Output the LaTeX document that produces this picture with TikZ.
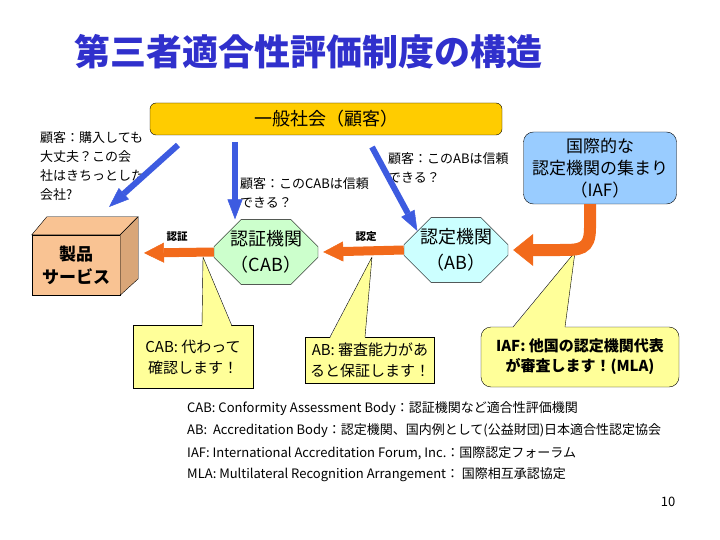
\documentclass[tikz,border=0pt]{standalone}
\usepackage{fontspec}
\setmainfont{Noto Sans CJK JP}
\usetikzlibrary{arrows.meta,shapes.misc}
\definecolor{titleblue}{HTML}{3030CC}
\definecolor{societygold}{HTML}{FFCC00}
\definecolor{cabfill}{HTML}{CCFFCC}
\definecolor{abfill}{HTML}{CCFFFF}
\definecolor{iaffill}{HTML}{99CCFF}
\definecolor{notefill}{HTML}{FFFF99}
\definecolor{boxfront}{HTML}{F9C393}
\definecolor{boxside}{HTML}{D9A678}
\definecolor{certorange}{HTML}{F26A1B}
\definecolor{askblue}{HTML}{3D5BE0}

\begin{document}
\begin{tikzpicture}[x=1pt, y=-1pt,
    question/.style={anchor=north west, align=left, inner sep=0pt,
        font=\fontsize{13}{19}\selectfont},
    agency/.style={chamfered rectangle, chamfered rectangle xsep=16pt,
        chamfered rectangle ysep=11pt, draw=black, align=center,
        inner sep=0pt, font=\fontsize{18}{26}\selectfont},
    callout/.style={draw=black, fill=notefill, align=center, inner sep=0pt,
        font=\fontsize{15}{21}\selectfont},
    legend/.style={anchor=west, inner sep=0pt,
        font=\fontsize{13}{15}\selectfont},
    actlabel/.style={inner sep=0pt, font=\fontsize{10.5}{12}\selectfont\bfseries},
    certarrow/.style={draw=certorange, line width=9pt,
        -{Triangle[length=20pt, width=20pt, line width=0.5pt]}},
    accarrow/.style={draw=certorange, line width=12pt,
        -{Triangle[length=20pt, width=32pt, line width=0.5pt]}},
    askarrow/.style={draw=askblue, line width=6pt,
        -{Triangle[length=20pt, width=15pt, line width=0.5pt]}}
]
    \useasboundingbox (0,0) rectangle (720,540);

    \node[font=\fontsize{36}{42}\selectfont\bfseries, text=titleblue] (title)
        at (308,52) {第三者適合性評価制度の構造};

    \node[draw=black, fill=societygold, rounded corners=6pt,
        minimum width=352pt, minimum height=32pt,
        font=\fontsize{18}{22}\selectfont] (society) at (326,119) {一般社会（顧客）};

    \node[question] (askproduct) at (40,131) {顧客：購入しても\\大丈夫？この会\\社はきちっとした\\会社?};
    \node[question] (askcab) at (240,177) {顧客：このCABは信頼\\できる？};
    \node[question] (askab) at (388,152) {顧客：このABは信頼\\できる？};

    % product box
    \node[draw=black, fill=boxfront, minimum width=88pt, minimum height=60pt,
        align=center, inner sep=0pt, font=\fontsize{17}{23}\selectfont\bfseries]
        (product) at (76,265) {製品\\サービス};
    \filldraw[fill=boxfront] (product.north west) -- ++(15,-18) -- ++(91,0)
        -- (product.north east) -- cycle;
    \filldraw[fill=boxside] (product.north east) -- ++(18,-18) -- ++(0,62)
        -- (product.south east) -- cycle;

    \node[agency, fill=cabfill, minimum width=97pt, minimum height=63pt]
        (cab) at (266,252) {認証機関\\（CAB）};
    \node[agency, fill=abfill, minimum width=103pt, minimum height=57pt]
        (ab) at (456,250) {認定機関\\（AB）};
    \node[draw=black, fill=iaffill, rounded corners=10pt, minimum width=153pt,
        minimum height=72pt, align=center, font=\fontsize{17}{22}\selectfont]
        (iaf) at (600,168) {国際的な\\認定機関の集まり\\（IAF）};

    \node[actlabel] (certlabel) at (177,237) {認証};
    \node[actlabel] (acclabel) at (366,237) {認定};

    % callouts
    \node[callout, minimum width=120pt, minimum height=63pt] (cabnote)
        at (193,357) {CAB: 代わって\\確認します！};
    \node[callout, minimum width=129pt, minimum height=46pt] (abnote)
        at (370,360) {AB: 審査能力があ\\ると保証します！};
    \node[callout, rounded corners=10pt, minimum width=198pt, minimum height=60pt,
        font=\fontsize{15}{20}\selectfont\bfseries] (iafnote)
        at (580,357) {IAF: 他国の認定機関代表\\が審査します！(MLA)};

    \coordinate (cabtip) at (203,257);
    \coordinate (abtip) at (372,257);
    \coordinate (iaftip) at (575,252);
    \fill[notefill] (cabtip) -- (202,327) -- (232,327) -- cycle;
    \draw (cabtip) -- (202,326) (cabtip) -- (232,326);
    \fill[notefill] (abtip) -- (330,338) -- (365,338) -- cycle;
    \draw (abtip) -- (330,337) (abtip) -- (365,337);
    \fill[notefill] (iaftip) -- (513,328) -- (565,328) -- cycle;
    \draw (iaftip) -- (513,327) (iaftip) -- (565,327);

    % arrows
    \coordinate (prodtip) at (144,253);
    \draw[certarrow] (cab.west) -- (prodtip);
    \draw[certarrow] (ab.west) -- ([xshift=5pt]cab.east);
    \draw[accarrow] ([xshift=-10pt]iaf.south) -- (590,228)
        .. controls (590,250) and (580,250) .. (560,250) -- ([xshift=5pt]ab.east);

    \coordinate (askfrom1) at (178,145);
    \coordinate (askto1) at (109,207);
    \coordinate (askfrom2) at (235,142);
    \coordinate (askfrom3) at (372,147);
    \draw[askarrow] (askfrom1) -- (askto1);
    \draw[askarrow] (askfrom2) -- ([xshift=-31pt]cab.north);
    \draw[askarrow] (askfrom3) -- (ab.north west);

    \node[legend] (legcab) at (187,409) {CAB: Conformity Assessment Body：認証機関など適合性評価機関};
    \node[legend] (legab) at (187,431) {AB:\ \ Accreditation Body：認定機関、国内例として(公益財団)日本適合性認定協会};
    \node[legend] (legiaf) at (187,453) {IAF: International Accreditation Forum, Inc.：国際認定フォーラム};
    \node[legend] (legmla) at (187,475) {MLA: Multilateral Recognition Arrangement： 国際相互承認協定};
    \node[legend, anchor=center] (page) at (668,502) {10};
\end{tikzpicture}
\end{document}
